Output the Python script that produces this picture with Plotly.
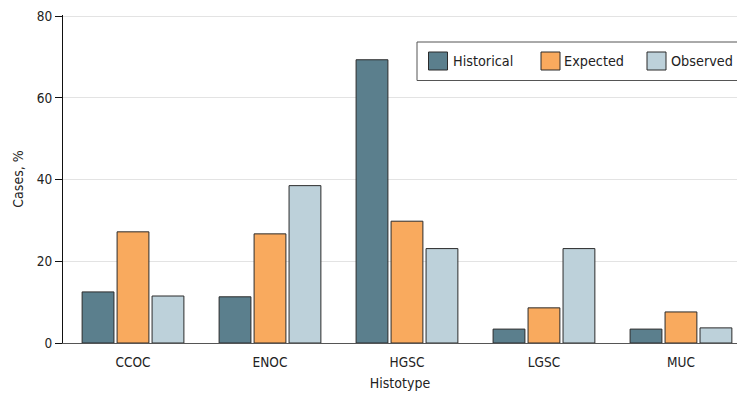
import plotly.graph_objects as go

categories = ["CCOC", "ENOC", "HGSC", "LGSC", "MUC"]
historical = [12.5, 11.3, 69.3, 3.4, 3.4]
expected = [27.2, 26.7, 29.8, 8.6, 7.6]
observed = [11.5, 38.5, 23.1, 23.1, 3.7]
y_ticks = [0, 20, 40, 60, 80]

series = [
    ("Historical", historical, "#5b7f8d"),
    ("Expected", expected, "#f9aa5e"),
    ("Observed", observed, "#bdd1da"),
]

FONT = "'DejaVu Sans Condensed', 'DejaVu Sans', sans-serif"

W, H = 737, 396
PL, PR, PT, PB = 63, 737, 15, 343


def px_x(px):
    return (px - PL) / (PR - PL)


def px_y(py):
    return (PB - py) / (PB - PT)


fig = go.Figure()
for name, vals, color in series:
    fig.add_trace(go.Bar(
        x=categories, y=vals, name=name, showlegend=False,
        marker=dict(color=color, line=dict(color="#2b2b2b", width=1)),
    ))

shapes = [dict(type="rect", xref="paper", yref="paper",
               x0=px_x(417), x1=px_x(760), y0=px_y(80.5), y1=px_y(42),
               line=dict(color="#555", width=1), fillcolor="white", layer="above")]
annotations = []
legend_pos = [(428.5, 451), (541, 562), (647, 669)]
for (name, _, color), (sx, tx) in zip(series, legend_pos):
    shapes.append(dict(type="rect", xref="paper", yref="paper",
                       x0=px_x(sx), x1=px_x(sx + 19), y0=px_y(70), y1=px_y(52),
                       line=dict(color="#2b2b2b", width=1), fillcolor=color, layer="above"))
    annotations.append(dict(text=name, xref="paper", yref="paper", x=px_x(tx), y=px_y(61),
                            xanchor="left", yanchor="middle", showarrow=False,
                            font=dict(size=14.3, family=FONT, color="#222")))

fig.update_layout(
    width=W, height=H,
    margin=dict(l=PL, r=W - PR, t=PT, b=H - PB, autoexpand=False),
    paper_bgcolor="white", plot_bgcolor="white",
    barmode="group", bargap=0.234, bargroupgap=0.09,
    font=dict(family=FONT, size=13.5, color="#222"),
    showlegend=False,
    shapes=shapes, annotations=annotations,
    xaxis=dict(
        range=[-0.511, 4.409], showline=True, linecolor="#555", linewidth=1,
        ticks="outside", ticklen=7, tickcolor="rgba(0,0,0,0)", showgrid=False,
        tickfont=dict(size=13.5),
        title=dict(text="Histotype", standoff=8, font=dict(size=14)),
    ),
    yaxis=dict(
        range=[0, 80.25], tickvals=y_ticks, showline=True, linecolor="#111", linewidth=1,
        ticks="outside", ticklen=7, tickcolor="#111", tickfont=dict(size=13.5),
        showgrid=True, gridcolor="#e3e3e3", gridwidth=1, zeroline=False,
        title=dict(text="Cases, %", standoff=9, font=dict(size=14)),
    ),
)

fig.write_html(
    "out.html",
    config={"displayModeBar": False},
    post_script="document.body.style.margin='0';document.body.style.overflow='hidden';",
)
